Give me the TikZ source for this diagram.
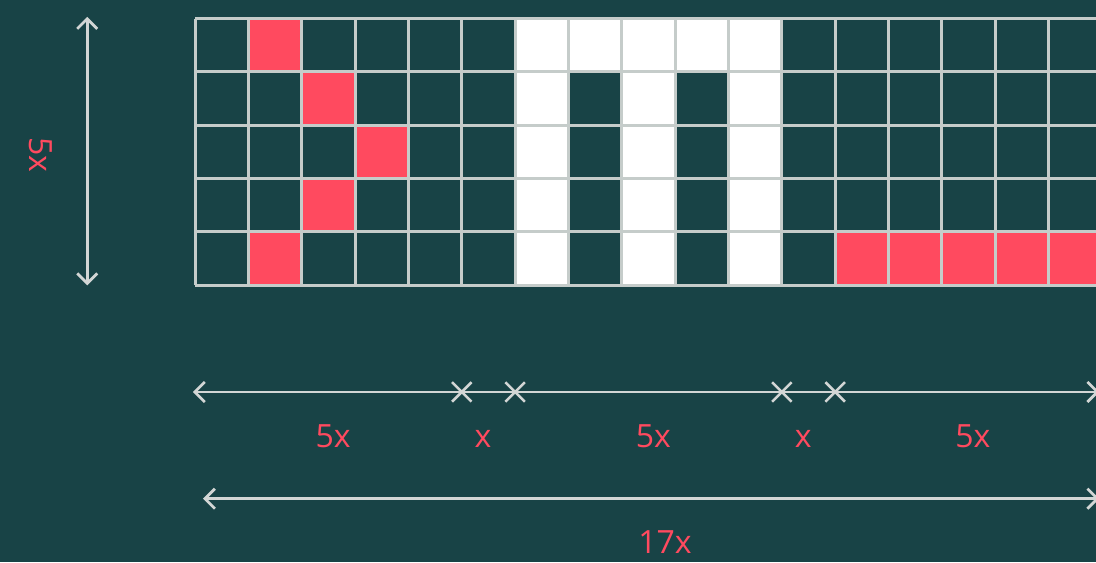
\documentclass[tikz,border=0pt]{standalone}
\usepackage{fontspec}
\setsansfont{Open Sans}
\usetikzlibrary{arrows.meta,shapes.misc}
\definecolor{pxTeal}{HTML}{184346}
\definecolor{pxRed}{HTML}{FF4A5F}
\definecolor{pxLine}{HTML}{C5CCCA}
\definecolor{pxDim}{HTML}{D2D6D5}
\tikzset{
  every picture/.style={font=\sffamily\fontsize{32}{38}\selectfont, text=pxRed},
  px red/.style={fill=pxRed},
  px white/.style={fill=white},
  px grid/.style={draw=pxLine, line width=3pt},
  px dim/.style={draw=pxDim, line width=2.7pt,
    {Straight Barb[length=10pt,width=20pt]}-{Straight Barb[length=10pt,width=20pt]}},
  px cross/.style={cross out, draw=pxDim, line width=2.5pt, minimum size=17pt,
    inner sep=0pt},
  px label/.style={anchor=base}
}

\begin{document}
\begin{tikzpicture}[x=53.35pt,y=-53.35pt]
  \useasboundingbox (-3.655,-0.347) rectangle (16.888,10.187);
  \clip (-3.655,-0.347) rectangle (16.888,10.187);
  \fill[pxTeal] (-3.655,-0.347) rectangle (16.888,10.187);

  % pixel cells
  \foreach \c/\r in {1/0,2/1,3/2,2/3,1/4,12/4,13/4,14/4,15/4,16/4}
    \fill[px red] (\c,\r) rectangle ++(1,1);
  \foreach \c/\r in {6/0,7/0,8/0,9/0,10/0,6/1,8/1,10/1,6/2,8/2,10/2,6/3,8/3,10/3,6/4,8/4,10/4}
    \fill[px white] (\c,\r) rectangle ++(1,1);
  \foreach \i in {0,...,17} \draw[px grid] (\i,0) -- (\i,5);
  \foreach \j in {0,...,5} \draw[px grid] (0,\j) -- (17,\j);

  % height
  \coordinate (vtop) at (-2.02,-0.03);
  \coordinate (vbot) at (-2.02,5);
  \draw[px dim] (vtop) -- (vbot);
  \node[rotate=-90] (hlabel) at (-2.9,2.56) {5x};

  % widths
  \coordinate (w0) at (-0.04,7);
  \coordinate (w17) at (16.95,7);
  \draw[px dim] (w0) -- (w17);
  \foreach \k in {5,6,11,12}
    \node[px cross] (c\k) at (\k,7) {};
  \node[px label] (lab1) at (2.59,8.04) {5x};
  \node[px label] (lab2) at (5.40,8.04) {x};
  \node[px label] (lab3) at (8.59,8.04) {5x};
  \node[px label] (lab4) at (11.40,8.04) {x};
  \node[px label] (lab5) at (14.58,8.04) {5x};

  \coordinate (t0) at (0.15,9);
  \coordinate (t17) at (16.95,9);
  \draw[px dim] (t0) -- (t17);
  \node[px label] (total) at (8.81,10.03) {17x};
\end{tikzpicture}
\end{document}
